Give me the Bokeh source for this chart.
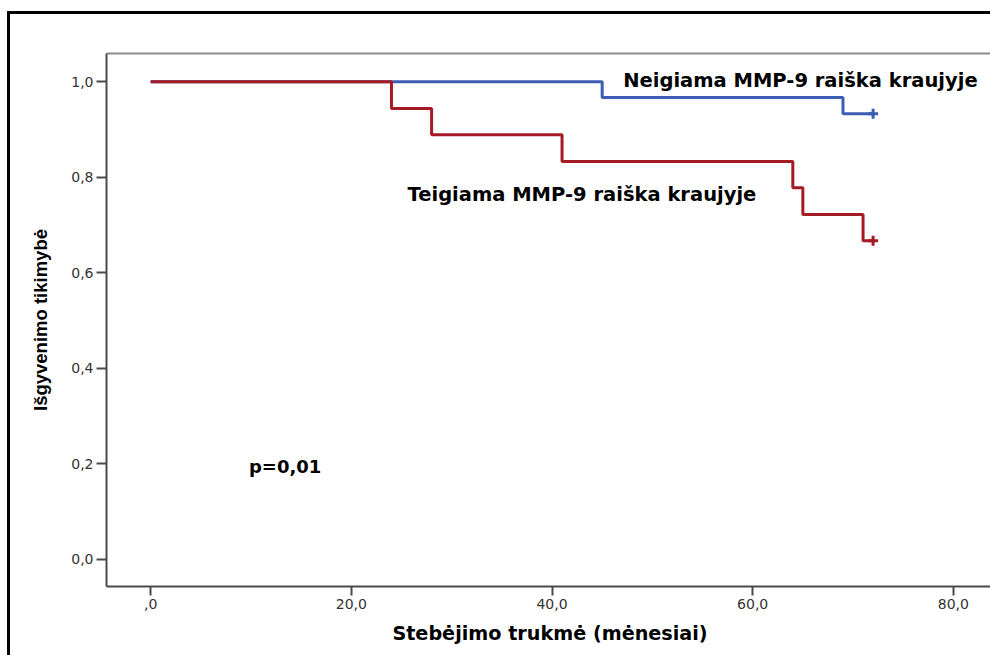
from bokeh.plotting import figure
from bokeh.models import LinearAxis, FixedTicker, Range1d
from bokeh.core.properties import value
from bokeh.embed import file_html
from bokeh.resources import INLINE

# ---- data ----
neg_times = [0, 45, 69, 72]
neg_surv = [1.0, 0.967, 0.933, 0.933]
pos_times = [0, 24, 28, 41, 64, 65, 71, 72]
pos_surv = [1.0, 0.944, 0.889, 0.833, 0.778, 0.722, 0.667, 0.667]
censor_t = [72]
neg_censor_s = [0.933]
pos_censor_s = [0.667]

x_ticks = [0, 20, 40, 60, 80]
x_tick_labels = [",0", "20,0", "40,0", "60,0", "80,0"]
y_ticks = [0.0, 0.2, 0.4, 0.6, 0.8, 1.0]
y_tick_labels = ["0,0", "0,2", "0,4", "0,6", "0,8", "1,0"]

neg_label = "Neigiama MMP-9 raiška kraujyje"
pos_label = "Teigiama MMP-9 raiška kraujyje"
p_label = "p=0,01"
x_title = "Stebėjimo trukmė (mėnesiai)"
y_title = "Išgyvenimo tikimybė"

BLUE = "#3d5db5"
RED = "#a51b25"

p = figure(width=983, height=644, output_backend="svg", toolbar_location=None,
           x_range=Range1d(-4.4, 84.0), y_range=Range1d(-0.0568, 1.059),
           min_border_left=96, min_border_top=39, min_border_bottom=72,
           min_border_right=0, x_axis_type=None, y_axis_type=None)
p.margin = (11, 0, 0, 7)
p.styles = {"border-left": "3px solid black", "border-top": "3px solid black"}
p.outline_line_color = None
p.background_fill_color = "white"
p.border_fill_color = "white"
p.grid.visible = False

tick_font = "DejaVu Sans"

xaxis = LinearAxis(ticker=FixedTicker(ticks=x_ticks),
                   major_label_overrides={t: l for t, l in zip(x_ticks, x_tick_labels)})
xaxis.axis_label = x_title
yaxis = LinearAxis(ticker=FixedTicker(ticks=y_ticks),
                   major_label_overrides={t: l for t, l in zip(y_ticks, y_tick_labels)})
yaxis.axis_label = y_title
for ax in (xaxis, yaxis):
    ax.axis_line_color = "#4a4a4a"
    ax.axis_line_width = 2
    ax.major_tick_line_color = "#4a4a4a"
    ax.major_tick_line_width = 2
    ax.major_tick_in = 0
    ax.minor_tick_line_color = None
    ax.major_label_text_font = tick_font
    ax.major_label_text_font_size = "14px"
    ax.major_label_text_color = "#333333"
    ax.axis_label_text_color = "black"
xaxis.major_tick_out = 9
yaxis.major_tick_out = 10
xaxis.major_label_standoff = 3
yaxis.major_label_standoff = 3
xaxis.axis_label_text_font = "DejaVu Sans"
xaxis.axis_label_text_font_style = "bold"
xaxis.axis_label_text_font_size = "19.2px"
xaxis.axis_label_standoff = 10
yaxis.axis_label_text_font = "Liberation Sans"
yaxis.axis_label_text_font_style = "bold"
yaxis.axis_label_text_font_size = "18.5px"
yaxis.axis_label_standoff = 17
p.add_layout(xaxis, "below")
p.add_layout(yaxis, "left")

top = LinearAxis(ticker=FixedTicker(ticks=[]), major_label_text_font_size="0px")
top.axis_line_color = "#8c8c8c"
top.axis_line_width = 2
top.major_tick_line_color = None
top.minor_tick_line_color = None
p.add_layout(top, "above")

p.step(neg_times, neg_surv, mode="after", line_color=BLUE, line_width=3)
p.step(pos_times, pos_surv, mode="after", line_color=RED, line_width=3)
p.scatter(censor_t, neg_censor_s, marker="cross", size=10, line_width=3, line_color=BLUE)
p.scatter(censor_t, pos_censor_s, marker="cross", size=10, line_width=3, line_color=RED)

p.text([47.1], [1.002], text=[neg_label], text_font=value("DejaVu Sans"),
       text_font_style="bold", text_font_size="19.5px", text_baseline="middle",
       text_align="left", text_color="black")
p.text([25.6], [0.764], text=[pos_label], text_font=value("DejaVu Sans"),
       text_font_style="bold", text_font_size="19.5px", text_baseline="middle",
       text_align="left", text_color="black")
p.text([9.8], [0.194], text=[p_label], text_font=value("DejaVu Sans"),
       text_font_style="bold", text_font_size="18px", text_baseline="middle",
       text_align="left", text_color="black")

open("out.html", "w").write(file_html(p, INLINE))
